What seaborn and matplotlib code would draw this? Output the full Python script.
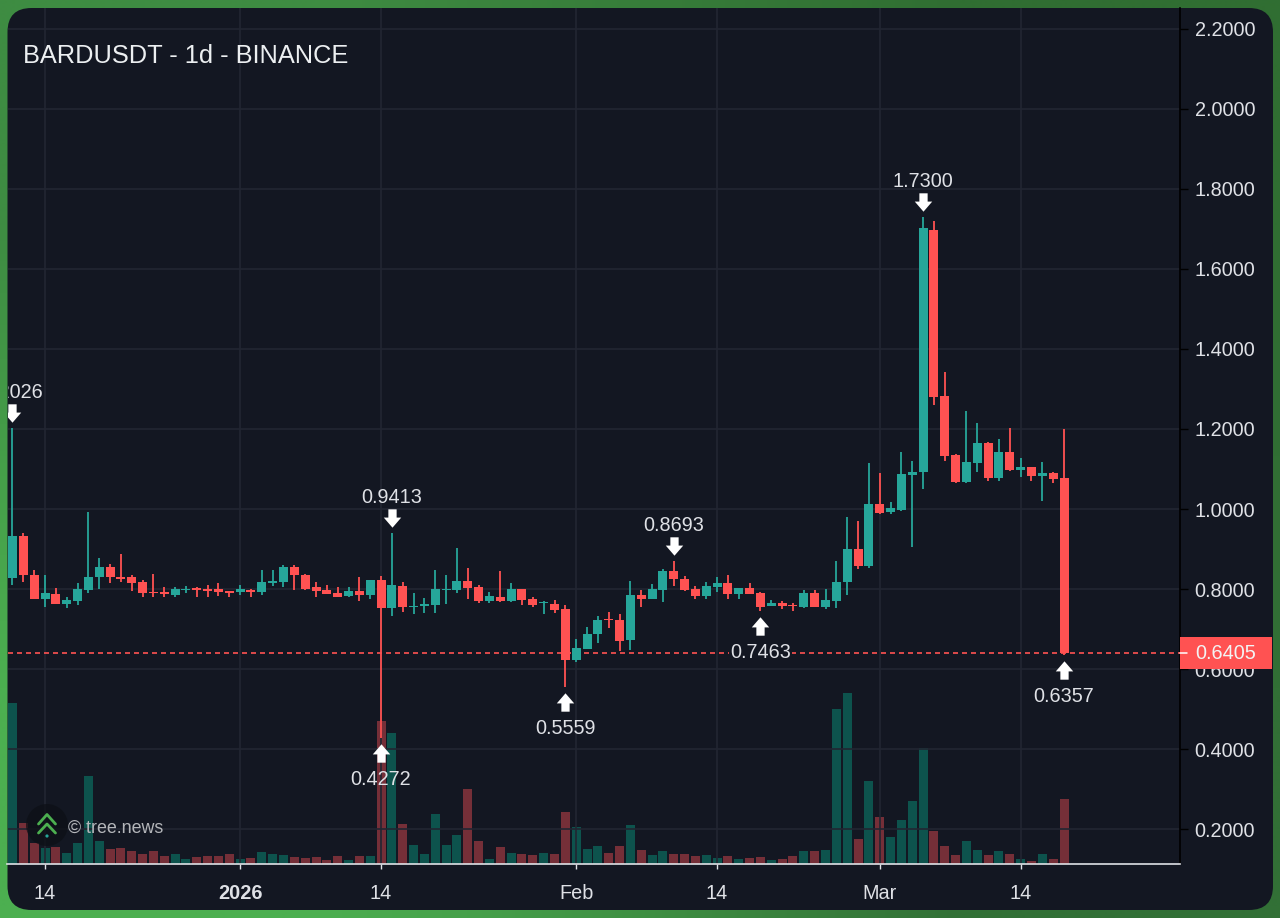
import numpy as np
import pandas as pd
import seaborn as sns
import matplotlib
matplotlib.use('Agg')
import matplotlib.pyplot as plt
from matplotlib.patches import FancyBboxPatch, Circle, Rectangle
from matplotlib.path import Path
from matplotlib.transforms import offset_copy

W, H = 1280, 918
PANEL = '#131722'
GRID = '#222632'
TEXT = '#dfe1e6'
UP = '#26a69a'
DOWN = '#ff5252'

# daily candles, first one is Dec 11 (day 0)
opens = [.8277, .9326, .8352, .7753, .7886, .7636, .7711, .7978, .8294, .8544,
         .8310, .8294, .8177, .7928, .7920, .7861, .7970, .8020, .7994, .8011,
         .7953, .7920, .7978, .7920, .8161, .8177, .8560, .8352, .8044, .7969,
         .7902, .7819, .7953, .7861, .8219, .7528, .8086, .7553, .7578, .7595,
         .7978, .7969, .8202, .8044, .7703, .7811, .7703, .7994, .7753, .7644,
         .7636, .7495, .6230, .6513, .6879, .7245, .7228, .6721, .7861, .7753,
         .7978, .8461, .8253, .8003, .7828, .8061, .8161, .7886, .8020, .7911,
         .7578, .7661, .7612, .7562, .7911, .7562, .7712, .8169, .8993, .8585,
         1.0116, .9925, .9975, 1.0849, 1.0915, 1.6975, 1.2821, 1.1357, 1.0666, 1.1157,
         1.1656, 1.0766, 1.1423, 1.0974, 1.1040, 1.0832, 1.0890, 1.0774]
highs = [1.2026, .9409, .8477, .8352, .8020, .7794, .8161, .9917, .8785, .8627,
         .8876, .8352, .8227, .8377, .8044, .8060, .8077, .8044, .8110, .8152,
         .7961, .8094, .7994, .8469, .8469, .8602, .8610, .8369, .8177, .8110,
         .8044, .8061, .8294, .8227, .8335, .9413, .8177, .7894, .7769, .8477,
         .8352, .9034, .8535, .8102, .7936, .8460, .8161, .7994, .7811, .7711,
         .7720, .7611, .6746, .7045, .7328, .7436, .7370, .8203, .7978, .8128,
         .8494, .8693, .8327, .8078, .8170, .8311, .8361, .8036, .8144, .7919,
         .7720, .7712, .7653, .7978, .7978, .8003, .8702, .9809, .9700, 1.1157,
         1.0907, 1.0166, 1.1431, 1.1207, 1.7300, 1.7191, 1.3420, 1.1373, 1.2439, 1.2156,
         1.1673, 1.1756, 1.2014, 1.1265, 1.1049, 1.1182, 1.0924, 1.2006]
lows = [.8100, .8186, .7744, .7561, .7628, .7528, .7595, .7894, .7994, .8161,
        .8177, .7961, .7794, .7794, .7794, .7794, .7894, .7794, .7811, .7828,
        .7794, .7844, .7794, .7844, .8077, .8044, .7978, .7978, .7794, .7878,
        .7794, .7794, .7703, .7753, .4272, .7328, .7428, .7386, .7411, .7411,
        .7636, .7911, .7761, .7661, .7661, .7678, .7686, .7603, .7544, .7370,
        .7411, .5559, .6180, .6504, .6662, .7029, .6446, .6488, .7545, .7745,
        .7687, .8086, .7961, .7761, .7761, .7936, .7761, .7761, .7870, .7463,
        .7570, .7503, .7462, .7537, .7545, .7512, .7528, .7861, .8494, .8527,
        .9867, .9875, .9950, .9059, 1.0500, 1.2597, 1.1198, 1.0641, 1.0657, 1.0915,
        1.0707, 1.0707, 1.0957, 1.0807, 1.0707, 1.0208, 1.0641, .6357]
closes = [.9326, .8344, .7744, .7894, .7636, .7728, .7993, .8310, .8544, .8294,
          .8260, .8161, .7911, .7894, .7870, .7994, .8011, .7978, .7961, .7928,
          .7911, .7994, .7920, .8177, .8202, .8560, .8344, .8011, .7953, .7886,
          .7811, .7961, .7853, .8227, .7528, .8110, .7553, .7586, .7620, .7994,
          .8011, .8202, .8019, .7703, .7819, .7703, .7994, .7728, .7611, .7669,
          .7478, .6230, .6521, .6887, .7228, .7220, .6712, .7861, .7753, .7994,
          .8461, .8253, .7978, .7836, .8086, .8161, .7878, .8028, .7878, .7562,
          .7653, .7586, .7570, .7911, .7562, .7728, .8178, .8993, .8577, 1.0117,
          .9908, 1.0017, 1.0865, 1.0932, 1.7008, 1.2805, 1.1332, 1.0666, 1.1182, 1.1648,
          1.0766, 1.1423, 1.0974, 1.1057, 1.0824, 1.0890, 1.0749, .6405]
volumes = [161, 41, 21, 16, 17, 11, 21, 88, 23, 15,
           16, 13, 10, 13, 8, 10, 5, 7, 8, 8,
           10, 5, 6, 12, 10, 9, 7, 6, 7, 4,
           8, 4, 8, 8, 143, 131, 40, 19, 10, 50,
           19, 29, 75, 23, 5, 17, 11, 10, 9, 11,
           10, 52, 37, 15, 18, 11, 18, 39, 14, 9,
           13, 10, 10, 8, 9, 6, 8, 5, 6, 7,
           4, 5, 8, 13, 13, 14, 155, 171, 25, 83,
           47, 27, 44, 63, 116, 33, 18, 9, 23, 14,
           9, 13, 10, 5, 3, 10, 5, 65]

price_ticks = [.2, .4, .6, .8, 1.0, 1.2, 1.4, 1.6, 1.8, 2.0, 2.2]
date_ticks = [3, 21, 34, 52, 65, 80, 93]
date_labels = ['14', '2026', '14', 'Feb', '14', 'Mar', '14']

# swing high / low labels
swing_days = [0, 34, 35, 51, 61, 69, 84, 97]
swing_prices = [1.2026, .4272, .9413, .5559, .8693, .7463, 1.7300, .6357]
swing_is_high = [True, False, True, False, True, False, True, False]
last_price = .6405

df = pd.DataFrame({'day': np.arange(len(opens)), 'open': opens, 'high': highs,
                   'low': lows, 'close': closes, 'volume': volumes})
df['rising'] = df['close'] >= df['open']
df['body'] = (df['close'] - df['open']).abs()
df['bottom'] = df[['open', 'close']].min(axis=1)

sns.set_theme(style='dark')
plt.rcParams['font.family'] = ['Liberation Sans', 'DejaVu Sans']

fig = plt.figure(figsize=(W / 100, H / 100), dpi=100)

# green frame and rounded dark panel, in pixel coordinates
bg = fig.add_axes([0, 0, 1, 1], zorder=0)
frame = np.array([[[62, 140, 66], [48, 110, 50]],
                  [[76, 175, 80], [50, 112, 54]]], dtype=float) / 255
bg.imshow(frame, extent=(0, W, H, 0), aspect='auto', interpolation='bilinear')
bg.add_patch(FancyBboxPatch((7.5, 8), 1265.5, 902, boxstyle='round,pad=0,rounding_size=24',
                            fc=PANEL, ec='none'))
bg.set_xlim(0, W)
bg.set_ylim(H, 0)
bg.axis('off')

rect = [7.5 / W, (H - 864) / H, (1180 - 7.5) / W, (864 - 8) / H]
xlim = (-0.46, 107.7)

# volume sits on its own scale behind the candles
vol_ax = fig.add_axes(rect, zorder=1)
vol_ax.patch.set_alpha(0)
for rising, color in [(True, '#0b6d60'), (False, '#a03a42')]:
    sub = df[df['rising'] == rising]
    sns.barplot(data=sub, x='day', y='volume', native_scale=True, ax=vol_ax, color=color,
                saturation=1, width=.83, errorbar=None, linewidth=0, alpha=.7)
vol_ax.set_xlim(xlim)
vol_ax.set_ylim(0, 856)
vol_ax.set_xticks([])
vol_ax.set_yticks([])
vol_ax.set_xlabel('')
vol_ax.set_ylabel('')
for s in vol_ax.spines.values():
    s.set_visible(False)

ax = fig.add_axes(rect, zorder=2)
ax.patch.set_alpha(0)
ax.set_axisbelow(True)

# candles
for rising, color in [(True, UP), (False, DOWN)]:
    sub = df[df['rising'] == rising]
    ax.vlines(sub['day'], sub['low'], sub['high'], color=color, lw=1.3, zorder=3)
    sns.barplot(data=sub, x='day', y='body', native_scale=True, ax=ax, color=color, saturation=1,
                width=.83, errorbar=None, linewidth=0, bottom=sub['bottom'].to_numpy(), zorder=4)

ax.set_xlim(xlim)
ax.set_ylim(.1136, 2.2512)
ax.set_xlabel('')
ax.set_ylabel('')

ax.set_xticks(date_ticks)
ax.set_xticklabels(date_labels)
ax.set_yticks(price_ticks)
ax.set_yticklabels([f'{p:.4f}' for p in price_ticks])
ax.yaxis.tick_right()
ax.grid(True, color=GRID, lw=1.2)
ax.tick_params(axis='x', length=3.6, width=1, color=TEXT, labelcolor=TEXT, labelsize=14.3, pad=10.5, bottom=True)
ax.tick_params(axis='y', length=5.5, width=1, color='black', labelcolor=TEXT, labelsize=14.3, pad=5, right=True)
ax.get_xticklabels()[1].set_fontweight('bold')
for s in ax.spines.values():
    s.set_visible(False)
ax.spines['bottom'].set_visible(True)
ax.spines['bottom'].set_color(TEXT)
ax.spines['bottom'].set_linewidth(1.2)
ax.spines['right'].set_visible(True)
ax.spines['right'].set_color('black')
ax.spines['right'].set_linewidth(1.2)

# last price line and tag
ax.axhline(last_price, color=DOWN, lw=1.2, ls=(0, (3, 2.4)), zorder=3)
yaxis_tr = ax.get_yaxis_transform()
ax.add_patch(Rectangle((1, last_price - .04), 92 / 1172.5, .08, fc=DOWN, ec='none', clip_on=False,
                       zorder=6, transform=yaxis_tr))
ax.plot([1, 1.006], [last_price, last_price], color='white', lw=1.1, transform=yaxis_tr, clip_on=False, zorder=7)
ax.text(1 + 15 / 1172.5, last_price, f'{last_price:.4f}', color='#f3f3f3', fontsize=14.3, va='center',
        ha='left', transform=yaxis_tr, zorder=7)

# swing arrows and labels
down_arrow = Path([(-.45, 1), (.45, 1), (.45, .1), (.95, .1), (0, -1), (-.95, .1), (-.45, .1), (-.45, 1)], closed=True)
up_arrow = Path([(-.45, -1), (.45, -1), (.45, -.1), (.95, -.1), (0, 1), (-.95, -.1), (-.45, -.1), (-.45, -1)], closed=True)
for day, price, is_high in zip(swing_days, swing_prices, swing_is_high):
    sign = 1 if is_high else -1
    tr = offset_copy(ax.transData, fig=fig, x=0, y=sign * 15, units='dots')
    ax.scatter([day], [price], marker=down_arrow if is_high else up_arrow, s=175, c='white',
               linewidths=0, transform=tr, zorder=8)
    bbox = None
    if price == .7463:
        bbox = dict(fc=PANEL, ec='none', pad=1)
    ax.annotate(f'{price:.4f}', (day, price), xytext=(0, 35.5 if is_high else -41.5),
                textcoords='offset pixels', ha='center', va='center', color=TEXT, fontsize=14.3,
                zorder=8, clip_on=True, bbox=bbox)

# title and watermark, pixel coordinates again
top = fig.add_axes([0, 0, 1, 1], zorder=3)
top.patch.set_alpha(0)
top.set_xlim(0, W)
top.set_ylim(H, 0)
top.axis('off')
top.text(23, 56, 'BARDUSDT - 1d - BINANCE', color='#eceff1', fontsize=18.25, va='center', ha='left')
top.add_patch(Circle((47, 825), 21, fc='#0d1016', ec='none', alpha=.75))
top.plot([38.5, 47, 55.5], [824, 814.5, 824], color='#4caf50', lw=2, solid_capstyle='round')
top.plot([38.5, 47, 55.5], [833, 824, 833], color='#4caf50', lw=2, solid_capstyle='round')
top.add_patch(Circle((47, 836), 1.6, fc=UP, ec='none'))
top.text(68, 828, '© tree.news', color='#b4b6ba', fontsize=12.9, va='center', ha='left')

fig.savefig('out.png', dpi=100)
